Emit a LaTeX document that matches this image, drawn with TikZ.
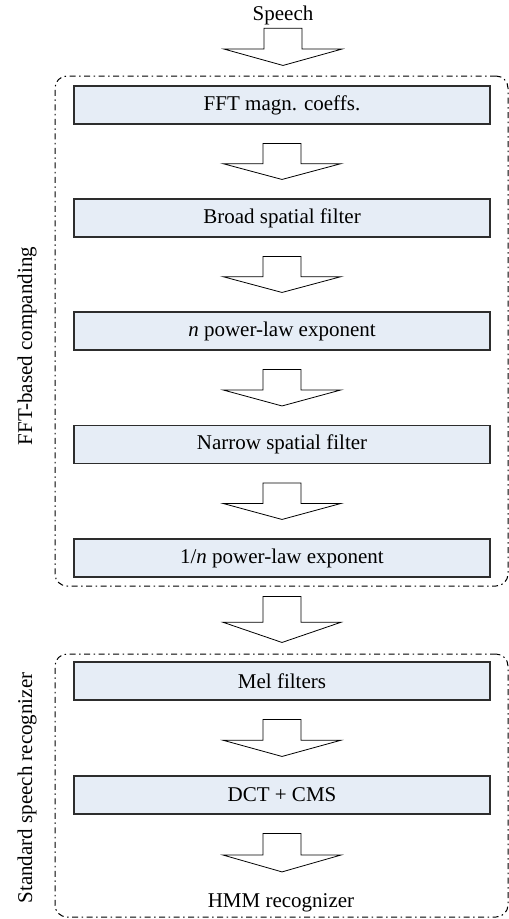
\documentclass[tikz,border=0pt]{standalone}
\usepackage{fontspec}
\setmainfont{Liberation Serif}
\usetikzlibrary{calc}
\definecolor{boxfill}{RGB}{230,237,246}
\definecolor{boxline}{RGB}{45,45,45}
\tikzset{
  stage/.style={draw=boxline, line width=1.1pt, fill=boxfill, minimum width=416pt,
    minimum height=38pt, inner sep=0pt, font=\fontsize{21}{24}\selectfont},
  txt/.style={inner sep=0pt, font=\fontsize{21}{24}\selectfont},
  groupbox/.style={draw, line width=1pt, rounded corners=12pt,
    dash pattern=on 6pt off 3.5pt on 1.5pt off 3.5pt, inner sep=0pt},
  blockarr/.style={draw, fill=white, line width=0.8pt, line join=miter},
}
\newcommand\blockarrow[4]{%
  \coordinate (ba1) at ($(#1)+(0,#3)$);
  \coordinate (ba2) at ($(#2)+(0,-#4)$);
  \draw[blockarr] let \p1=(ba1), \p2=(ba2), \p3=($(ba1)!0.56!(ba2)$) in
    (\x1-19pt,\y1) -- (\x1+19pt,\y1) -- (\x1+19pt,\y3) -- (\x1+59pt,\y3)
    -- (\x1,\y2) -- (\x1-59pt,\y3) -- (\x1-19pt,\y3) -- cycle;}
\begin{document}
\begin{tikzpicture}[x=1pt,y=-1pt]
\useasboundingbox (0,0) rectangle (509,919);
% group frames
\node[groupbox, minimum width=453pt, minimum height=510pt] (g1) at (281.5,331) {};
\node[groupbox, minimum width=453pt, minimum height=263pt] (g2) at (281.5,785.5) {};
\node[txt, rotate=90, anchor=base] (l1) at (32,346) {FFT-based companding};
\node[txt, rotate=90, anchor=base] (l2) at (32,788) {Standard speech recognizer};
% input / output
\node[txt, anchor=base] (sp) at (283,20) {Speech};
\node[txt, anchor=base] (hmm) at (281,907) {HMM recognizer};
% stages
\node[stage] (fft) at (282,105) {FFT magn. coeffs.};
\node[stage] (broad) at (282,218) {Broad spatial filter};
\node[stage] (npow) at (282,331) {\textit{n} power-law exponent};
\node[stage] (narrow) at (282,444.5) {Narrow spatial filter};
\node[stage] (invpow) at (282,558) {1/\textit{n} power-law exponent};
\node[stage] (mel) at (282,681) {Mel filters};
\node[stage] (dct) at (282,795) {DCT + CMS};
% block arrows
\blockarrow{sp.south}{fft.north}{3.5}{20}
\blockarrow{fft.south}{broad.north}{19}{19}
\blockarrow{broad.south}{npow.north}{19}{19}
\blockarrow{npow.south}{narrow.north}{19}{19}
\blockarrow{narrow.south}{invpow.north}{19}{19}
\blockarrow{invpow.south}{mel.north}{19}{19}
\blockarrow{mel.south}{dct.north}{19}{19}
\blockarrow{dct.south}{hmm.north}{19}{21}
\end{tikzpicture}
\end{document}
